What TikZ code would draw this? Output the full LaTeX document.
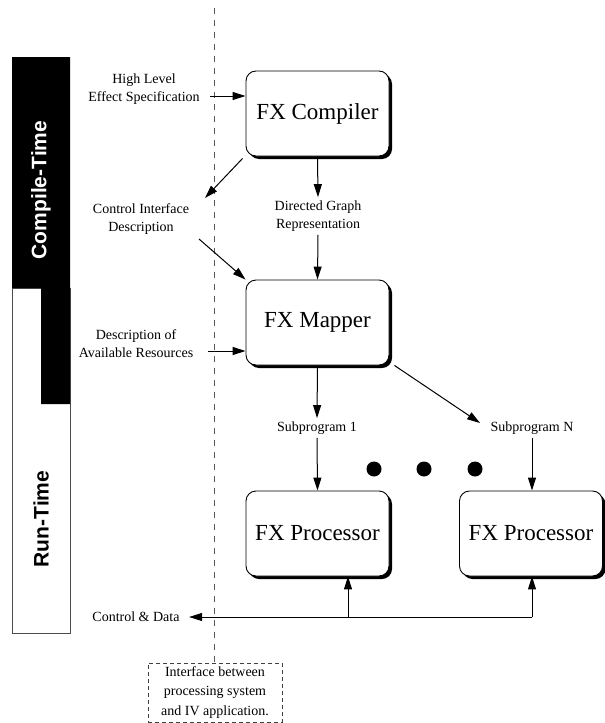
\documentclass[tikz,border=0pt]{standalone}
\usepackage{fontspec}
\setmainfont{Liberation Serif}
\setsansfont{Liberation Sans}
\usetikzlibrary{positioning, arrows.meta, shadows}

\begin{document}
\begin{tikzpicture}[
    x=1pt, y=-1pt,
    fxbox/.style={draw, fill=white, rounded corners=10pt, minimum width=143pt,
        minimum height=85pt, line width=0.9pt, font=\fontsize{23}{26}\selectfont,
        drop shadow={shadow xshift=3pt, shadow yshift=-3pt, opacity=1, fill=black}},
    lbl/.style={align=center, font=\fontsize{14}{18}\selectfont},
    arr/.style={-{Triangle[length=13pt, width=8pt]}, line width=1pt},
    phase/.style={rotate=90, font=\sffamily\bfseries\fontsize{21}{24}\selectfont},
    dot/.style={circle, fill, inner sep=0pt, minimum size=15pt},
    ifbox/.style={draw=black!75, dashed, dash pattern=on 4pt off 3pt, align=center,
        minimum width=134pt, minimum height=59pt, inner sep=2pt,
        font=\fontsize{14}{19.5}\selectfont}
]
    \useasboundingbox (0,0) rectangle (605,723);

    % Phase bars
    \draw[line width=0.6pt, black!70] (12,288) rectangle (70,633);
    \fill (12,57) -- (70,57) -- (70,404) -- (41,404) -- (41,288) -- (12,288) -- cycle;
    \node[phase, white] (ctime) at (41,190) {Compile-Time};
    \node[phase] (rtime) at (41,519) {Run-Time};

    % Interface line
    \node[ifbox] (iface) at (215,692.5) {Interface between\\processing system\\and IV application.};
    \coordinate (ltop) at (214,8);
    \draw[black!65, line width=0.8pt, dash pattern=on 6pt off 6pt] (ltop) -- (ltop |- iface.north);

    % Processing stages
    \node[fxbox] (comp) at (317.5,113.5) {FX Compiler};
    \node[fxbox] (map) at (317.5,322.5) {FX Mapper};
    \node[fxbox] (proc1) at (317.5,533.5) {FX Processor};
    \node[fxbox] (procn) at (531,533.5) {FX Processor};

    % Labels
    \node[lbl] (spec) at (144,89) {High Level\\Effect Specification};
    \node[lbl] (ctrl) at (141,219) {Control Interface\\Description};
    \node[lbl] (graph) at (318,216) {Directed Graph\\Representation};
    \node[lbl] (res) at (136,344) {Description of\\Available Resources};
    \node[lbl] (sub1) at (317,428) {Subprogram 1};
    \node[lbl] (subn) at (532,428) {Subprogram N};
    \node[lbl] (cdata) at (136,617) {Control \& Data};

    % Dots between subprograms
    \foreach \x [count=\i] in {374,424,475}
        \node[dot] (dot\i) at (\x,469) {};

    % Compile-time connections
    \coordinate (specR) at (210,96);
    \draw[arr] (specR) -- (comp.west |- specR);
    \coordinate (ctrlTip) at (205,198);
    \draw[arr] ([shift={(-3,2)}]comp.south west) -- (ctrlTip);
    \coordinate (ctrlTail) at (199,239);
    \draw[arr] (ctrlTail) -- (map.north west);
    \draw[arr] (comp.south) -- (graph.north);
    \draw[arr] (graph.south) -- (map.north);
    \coordinate (resR) at (208,351);
    \draw[arr] (resR) -- (map.west |- resR);

    % Run-time connections
    \draw[arr] (map.south) -- (sub1.north);
    \draw[arr] (sub1.south) -- (proc1.north);
    \coordinate (subnTip) at (480,423);
    \draw[arr] ([shift={(5,0)}]map.south east) -- (subnTip);
    \draw[arr] (subn.south) -- (subn.south |- procn.north);

    % Control & data bus
    \coordinate (bus1) at (348,617);
    \coordinate (busN) at (532,617);
    \draw[arr] (busN) -- ([xshift=6pt]cdata.east);
    \draw[arr] (bus1) -- (proc1.south -| bus1);
    \draw[arr] (busN) -- (procn.south -| busN);
\end{tikzpicture}
\end{document}
